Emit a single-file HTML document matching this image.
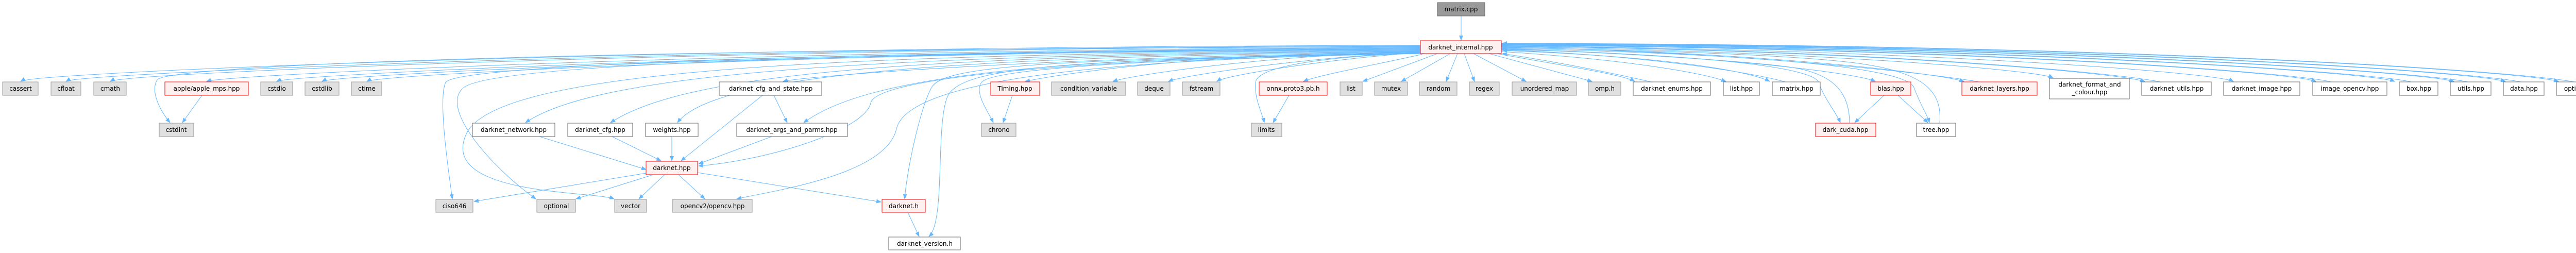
<!DOCTYPE html>
<html><head><meta charset="utf-8"><style>
html,body{margin:0;padding:0;background:#fff;overflow:hidden;}
svg{display:block;}
text{font-family:"DejaVu Sans","Liberation Sans",sans-serif;font-size:12px;fill:#000;text-anchor:middle;}
.g{fill:#e0e0e0;stroke:#999;stroke-width:1;}
.w{fill:#fff;stroke:#666;stroke-width:1;}
.r{fill:#fff0f0;stroke:#f00;stroke-width:1;}
.e{fill:none;stroke:#63b8ff;stroke-width:1;}
</style></head><body>
<svg width="5086" height="491" viewBox="0 0 5086 491" xmlns="http://www.w3.org/2000/svg">
<defs><marker id="a" markerWidth="10" markerHeight="8" refX="9" refY="4" orient="auto" markerUnits="userSpaceOnUse"><path d="M0,0 L10,4 L0,8z" fill="#63b8ff"/></marker></defs>
<g class="e" marker-end="url(#a)">
<path d="M2836 31 L2836 78"/>
<path d="M2757 88 C1275 90, 70 140, 40 158"/>
<path d="M2757 89 C1320 92, 155 142, 128 158"/>
<path d="M2757 90 C1360 94, 240 142, 214 158"/>
<path d="M2757 91 C1000 95, 320 130, 305 155 S 315 220, 330 238"/>
<path d="M2757 92 C1450 96, 440 145, 401 158"/>
<path d="M2757 93 C1520 98, 565 145, 537 158"/>
<path d="M2757 94 C1560 99, 650 145, 625 158"/>
<path d="M2757 95 C1600 100, 735 145, 712 158"/>
<path d="M2757 96 C1500 100, 880 130, 865 160 S 870 330, 878 386"/>
<path d="M2757 97 C1500 102, 950 130, 900 170 S 960 330, 1040 386"/>
<path d="M2757 98 C1550 103, 960 140, 905 260 S 1150 370, 1192 386"/>
<path d="M2757 99 C1600 105, 1150 150, 1020 238"/>
<path d="M2757 100 C1700 106, 1320 150, 1185 238"/>
<path d="M2757 101 C1800 108, 1380 150, 1315 238"/>
<path d="M2757 102 C2000 110, 1550 150, 1520 158"/>
<path d="M2757 103 C2000 112, 1680 150, 1560 238"/>
<path d="M2757 103 C2100 113, 1700 150, 1690 200 S 1500 310, 1356 322"/>
<path d="M2757 104 C2100 114, 1760 160, 1740 250 S 1500 370, 1430 386"/>
<path d="M2757 104 C2000 115, 1830 130, 1808 170 S 1760 330, 1756 386"/>
<path d="M2757 104 C2050 116, 1860 130, 1838 190 S 1835 430, 1803 459"/>
<path d="M2757 104 C2100 117, 1920 140, 1905 160 S 1920 220, 1928 238"/>
<path d="M2757 100 C2300 105, 2050 145, 1990 158"/>
<path d="M2757 100 C2450 108, 2200 145, 2160 158"/>
<path d="M2757 101 C2550 110, 2300 145, 2268 158"/>
<path d="M2757 102 C2600 112, 2380 145, 2362 158"/>
<path d="M2757 103 C2560 110, 2440 130, 2437 160 S 2450 220, 2454 238"/>
<path d="M2765 104 C2700 120, 2560 145, 2530 158"/>
<path d="M2790 104 L2645 158"/>
<path d="M2815 104 L2720 158"/>
<path d="M2829 104 L2807 158"/>
<path d="M2842 104 L2862 158"/>
<path d="M2860 104 L2962 158"/>
<path d="M2890 104 L3090 158"/>
<path d="M2905 104 C3050 130, 3150 145, 3173 158"/>
<path d="M3205 159 C3100 135, 2990 115, 2916 104"/>
<path d="M2914 100 C3150 115, 3300 140, 3350 158"/>
<path d="M2914 98 C3250 110, 3400 140, 3435 158"/>
<path d="M3465 159 C3380 135, 3150 105, 2916 97"/>
<path d="M2914 96 C3300 105, 3520 130, 3530 160 S 3565 220, 3572 238"/>
<path d="M3590 239 C3590 180, 3560 150, 3500 135 S 3100 100, 2916 95"/>
<path d="M2914 95 C3300 105, 3600 140, 3640 158"/>
<path d="M2914 94 C3400 104, 3700 130, 3715 170 S 3740 220, 3745 238"/>
<path d="M3765 239 C3770 180, 3740 140, 3600 122 S 3100 95, 2916 93"/>
<path d="M2914 92 C3400 100, 3750 140, 3812 158"/>
<path d="M3842 159 C3700 135, 3300 98, 2916 92"/>
<path d="M2914 91 C3500 98, 3950 135, 3985 151"/>
<path d="M2914 90 C3600 96, 4100 140, 4163 158"/>
<path d="M4193 159 C4100 140, 3600 94, 2916 90"/>
<path d="M2914 89 C3700 95, 4300 140, 4335 158"/>
<path d="M2914 88 C3800 93, 4450 140, 4495 158"/>
<path d="M4525 159 C4450 140, 3800 91, 2916 88"/>
<path d="M2914 87 C3900 92, 4600 140, 4648 158"/>
<path d="M4680 159 C4600 140, 3900 90, 2916 87"/>
<path d="M2914 86 C4000 90, 4700 140, 4763 158"/>
<path d="M4790 159 C4700 140, 4000 88, 2916 86"/>
<path d="M2914 85 C4100 89, 4800 140, 4863 158"/>
<path d="M4893 159 C4800 140, 4100 87, 2916 85"/>
<path d="M2914 84 C4200 88, 4900 140, 4966 158"/>
<path d="M4996 159 C4900 140, 4200 86, 2916 84"/>
<path d="M392 185 L354 238"/>
<path d="M1480 185 L1322 312"/>
<path d="M1502 185 L1528 238"/>
<path d="M1047 265 L1254 329"/>
<path d="M1188 265 L1283 312"/>
<path d="M1304 265 L1304 312"/>
<path d="M1498 265 L1356 318"/>
<path d="M1254 336 L920 391"/>
<path d="M1268 339 L1118 386"/>
<path d="M1290 339 L1240 386"/>
<path d="M1317 339 L1368 386"/>
<path d="M1354 335 L1710 392"/>
<path d="M1965 185 L1947 238"/>
<path d="M2502 185 L2471 238"/>
<path d="M1762 412 L1784 459"/>
<path d="M3657 185 L3600 238"/>
<path d="M3684 185 L3742 238"/>
</g>
<g>
<rect class="g" x="2790" y="5" width="92" height="26" style="fill:#999;stroke:#666"/><text x="2836" y="22">matrix.cpp</text>
<rect class="r" x="2757" y="79" width="157" height="25"/><text x="2835" y="96">darknet_internal.hpp</text>
<rect class="g" x="5" y="159" width="69" height="26"/><text x="40" y="176">cassert</text>
<rect class="g" x="99" y="159" width="58" height="26"/><text x="128" y="176">cfloat</text>
<rect class="g" x="182" y="159" width="63" height="26"/><text x="214" y="176">cmath</text>
<rect class="r" x="320" y="159" width="162" height="26"/><text x="401" y="176">apple/apple_mps.hpp</text>
<rect class="g" x="506" y="159" width="62" height="26"/><text x="537" y="176">cstdio</text>
<rect class="g" x="592" y="159" width="66" height="26"/><text x="625" y="176">cstdlib</text>
<rect class="g" x="682" y="159" width="59" height="26"/><text x="712" y="176">ctime</text>
<rect class="g" x="309" y="239" width="67" height="26"/><text x="342" y="256">cstdint</text>
<rect class="w" x="1396" y="159" width="199" height="26"/><text x="1496" y="176">darknet_cfg_and_state.hpp</text>
<rect class="w" x="917" y="239" width="160" height="26"/><text x="997" y="256">darknet_network.hpp</text>
<rect class="w" x="1102" y="239" width="126" height="26"/><text x="1165" y="256">darknet_cfg.hpp</text>
<rect class="w" x="1253" y="239" width="102" height="26"/><text x="1304" y="256">weights.hpp</text>
<rect class="w" x="1430" y="239" width="215" height="26"/><text x="1537" y="256">darknet_args_and_parms.hpp</text>
<rect class="r" x="1254" y="313" width="100" height="26"/><text x="1304" y="330">darknet.hpp</text>
<rect class="g" x="846" y="387" width="72" height="25"/><text x="882" y="404">ciso646</text>
<rect class="g" x="1042" y="387" width="75" height="25"/><text x="1080" y="404">optional</text>
<rect class="g" x="1193" y="387" width="62" height="25"/><text x="1224" y="404">vector</text>
<rect class="g" x="1305" y="387" width="155" height="25"/><text x="1383" y="404">opencv2/opencv.hpp</text>
<rect class="r" x="1712" y="387" width="84" height="25"/><text x="1754" y="404">darknet.h</text>
<rect class="w" x="1725" y="460" width="139" height="25"/><text x="1795" y="477">darknet_version.h</text>
<rect class="r" x="1923" y="159" width="95" height="26"/><text x="1970" y="176">Timing.hpp</text>
<rect class="g" x="2041" y="159" width="144" height="26"/><text x="2113" y="176">condition_variable</text>
<rect class="g" x="2208" y="159" width="63" height="26"/><text x="2240" y="176">deque</text>
<rect class="g" x="2295" y="159" width="73" height="26"/><text x="2332" y="176">fstream</text>
<rect class="r" x="2444" y="159" width="132" height="26"/><text x="2510" y="176">onnx.proto3.pb.h</text>
<rect class="g" x="1905" y="239" width="67" height="26"/><text x="1939" y="256">chrono</text>
<rect class="g" x="2429" y="239" width="59" height="26"/><text x="2458" y="256">limits</text>
<rect class="g" x="2601" y="159" width="43" height="26"/><text x="2622" y="176">list</text>
<rect class="g" x="2668" y="159" width="64" height="26"/><text x="2700" y="176">mutex</text>
<rect class="g" x="2755" y="159" width="73" height="26"/><text x="2792" y="176">random</text>
<rect class="g" x="2852" y="159" width="58" height="26"/><text x="2881" y="176">regex</text>
<rect class="g" x="2935" y="159" width="125" height="26"/><text x="2998" y="176">unordered_map</text>
<rect class="g" x="3083" y="159" width="63" height="26"/><text x="3115" y="176">omp.h</text>
<rect class="w" x="3170" y="159" width="150" height="26"/><text x="3245" y="176">darknet_enums.hpp</text>
<rect class="w" x="3345" y="159" width="70" height="26"/><text x="3380" y="176">list.hpp</text>
<rect class="w" x="3440" y="159" width="93" height="26"/><text x="3487" y="176">matrix.hpp</text>
<rect class="r" x="3631" y="159" width="78" height="26"/><text x="3670" y="176">blas.hpp</text>
<rect class="r" x="3808" y="159" width="146" height="26"/><text x="3881" y="176">darknet_layers.hpp</text>
<rect class="w" x="3978" y="152" width="155" height="40"/><text x="4056" y="168">darknet_format_and</text><text x="4056" y="183">_colour.hpp</text>
<rect class="w" x="4157" y="159" width="135" height="26"/><text x="4225" y="176">darknet_utils.hpp</text>
<rect class="r" x="3524" y="239" width="117" height="26"/><text x="3582" y="256">dark_cuda.hpp</text>
<rect class="w" x="3720" y="239" width="76" height="26"/><text x="3758" y="256">tree.hpp</text>
<rect class="w" x="4316" y="159" width="148" height="26"/><text x="4390" y="176">darknet_image.hpp</text>
<rect class="w" x="4489" y="159" width="144" height="26"/><text x="4561" y="176">image_opencv.hpp</text>
<rect class="w" x="4657" y="159" width="75" height="26"/><text x="4695" y="176">box.hpp</text>
<rect class="w" x="4756" y="159" width="79" height="26"/><text x="4796" y="176">utils.hpp</text>
<rect class="w" x="4859" y="159" width="79" height="26"/><text x="4899" y="176">data.hpp</text>
<rect class="w" x="4962" y="159" width="118" height="26"/><text x="5021" y="176">option_list.hpp</text>
</g>
</svg>
</body></html>
